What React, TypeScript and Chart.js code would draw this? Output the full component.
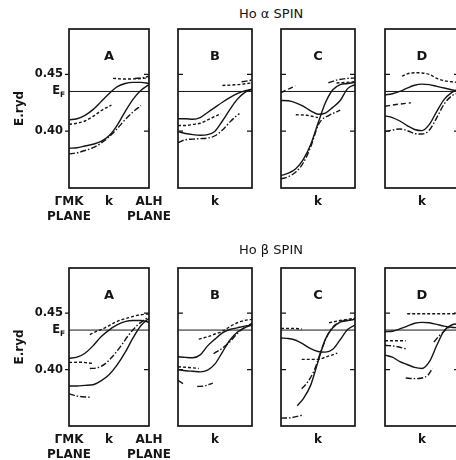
import React, { useEffect, useRef } from "react";
import { Chart, registerables } from "chart.js";
Chart.register(...registerables);

type Pt = [number, number];
type Curve = [string, Pt[]];

const E_F = 0.435;
const Y_MIN = 0.35;
const Y_MAX = 0.49;
const Y_TICKS = [0.4, E_F, 0.45];
const Y_TICK_LABELS = ["0.40", "", "0.45"];
const X_TICKS = [0, 0.5, 1];
const X_LABELS_FIRST: (string | string[])[] = [["ΓMK", "PLANE"], "k", ["ALH", "PLANE"]];
const X_LABELS_OTHER: (string | string[])[] = ["", "k", ""];
const PANEL_LETTERS = ["A", "B", "C", "D"];
const ROW_TITLES = ["Ho α SPIN", "Ho β SPIN"];
const Y_TITLE = "E.ryd";

// ---- α spin panels ----
const alphaA: Curve[] = [
  ["solid", [[0, 0.41], [0.1, 0.411], [0.2, 0.414], [0.3, 0.419], [0.4, 0.426], [0.5, 0.433], [0.6, 0.439], [0.7, 0.442], [0.8, 0.443], [0.9, 0.443], [1, 0.442]]],
  ["dot", [[0, 0.406], [0.1, 0.407], [0.2, 0.409], [0.3, 0.413], [0.4, 0.418], [0.53, 0.423]]],
  ["dot", [[0.55, 0.4465], [0.7, 0.446], [0.85, 0.4462], [1, 0.447]]],
  ["dashdot", [[0.82, 0.4465], [0.92, 0.447], [1, 0.4485]]],
  ["solid", [[0, 0.385], [0.1, 0.3855], [0.2, 0.387], [0.3, 0.3885], [0.4, 0.391], [0.5, 0.396], [0.6, 0.405], [0.7, 0.417], [0.8, 0.428], [0.9, 0.436], [1, 0.441]]],
  ["dashdot", [[0, 0.38], [0.1, 0.381], [0.2, 0.383], [0.3, 0.3855], [0.4, 0.3895], [0.5, 0.395], [0.6, 0.402], [0.7, 0.41], [0.8, 0.417], [0.9, 0.4225]]],
];
const alphaB: Curve[] = [
  ["solid", [[0, 0.411], [0.1, 0.411], [0.2, 0.4105], [0.3, 0.412], [0.4, 0.4165], [0.5, 0.421], [0.6, 0.4255], [0.7, 0.4295], [0.8, 0.433], [0.9, 0.4355], [1, 0.437]]],
  ["dot", [[0, 0.405], [0.1, 0.405], [0.2, 0.406], [0.3, 0.407], [0.4, 0.41], [0.5, 0.413], [0.58, 0.4155]]],
  ["solid", [[0, 0.3997], [0.1, 0.398], [0.2, 0.397], [0.3, 0.3965], [0.4, 0.397], [0.5, 0.4], [0.6, 0.409], [0.7, 0.419], [0.8, 0.428], [0.9, 0.434], [1, 0.437]]],
  ["dashdot", [[0, 0.39], [0.1, 0.3925], [0.2, 0.393], [0.3, 0.3935], [0.4, 0.394], [0.5, 0.396], [0.6, 0.401], [0.7, 0.408], [0.8, 0.414], [0.83, 0.4155]]],
  ["dot", [[0.6, 0.4403], [0.8, 0.441], [1, 0.4425]]],
  ["dashdot", [[0.86, 0.4435], [1, 0.445]]],
];
const alphaC: Curve[] = [
  ["solid", [[0, 0.427], [0.1, 0.4268], [0.2, 0.425], [0.3, 0.422], [0.4, 0.418], [0.5, 0.415], [0.6, 0.416], [0.7, 0.421], [0.8, 0.427], [0.9, 0.4375], [1, 0.441]]],
  ["solid", [[0, 0.361], [0.1, 0.363], [0.2, 0.367], [0.3, 0.375], [0.4, 0.388], [0.5, 0.407], [0.6, 0.425], [0.7, 0.4365], [0.8, 0.441], [0.9, 0.442], [1, 0.443]]],
  ["dashdot", [[0, 0.358], [0.1, 0.36], [0.2, 0.364], [0.3, 0.372], [0.4, 0.386], [0.5, 0.405], [0.55, 0.41], [0.65, 0.414], [0.8, 0.4185]]],
  ["dot", [[0.2, 0.4145], [0.35, 0.414], [0.5, 0.412]]],
  ["dashdot", [[0.64, 0.4425], [0.75, 0.445], [0.9, 0.4465], [1, 0.4468]]],
  ["dash", [[0, 0.434], [0.1, 0.437], [0.2, 0.44]]],
  ["dot", [[0.75, 0.4425], [1, 0.4435]]],
];
const alphaD: Curve[] = [
  ["dot", [[0.23, 0.4485], [0.3, 0.4505], [0.4, 0.4515], [0.5, 0.4513], [0.6, 0.45], [0.7, 0.4465], [0.8, 0.4445], [0.9, 0.4435], [1, 0.443]]],
  ["solid", [[0, 0.432], [0.1, 0.433], [0.2, 0.435], [0.3, 0.438], [0.4, 0.4405], [0.5, 0.4415], [0.6, 0.441], [0.7, 0.4395], [0.8, 0.438], [0.9, 0.4365], [1, 0.435]]],
  ["dash", [[0, 0.422], [0.15, 0.4235], [0.35, 0.425]]],
  ["solid", [[0, 0.4135], [0.1, 0.412], [0.2, 0.409], [0.3, 0.405], [0.4, 0.4015], [0.5, 0.4005], [0.6, 0.406], [0.7, 0.4175], [0.8, 0.428], [0.9, 0.434], [1, 0.4375]]],
  ["dashdot", [[0, 0.3995], [0.1, 0.401], [0.2, 0.402], [0.3, 0.4005], [0.4, 0.398], [0.5, 0.3975], [0.6, 0.401], [0.7, 0.412], [0.8, 0.424], [0.9, 0.431], [1, 0.434]]],
];

// ---- β spin panels ----
const betaA: Curve[] = [
  ["dot", [[0.26, 0.431], [0.35, 0.434], [0.45, 0.437], [0.55, 0.441], [0.65, 0.444], [0.75, 0.446], [0.85, 0.448], [1, 0.4495]]],
  ["solid", [[0, 0.41], [0.1, 0.411], [0.2, 0.4145], [0.3, 0.421], [0.4, 0.429], [0.5, 0.435], [0.6, 0.4395], [0.7, 0.4425], [0.8, 0.4435], [0.9, 0.4435], [1, 0.442]]],
  ["dot", [[0, 0.4063], [0.15, 0.4065], [0.29, 0.4055]]],
  ["dashdot", [[0.26, 0.401], [0.35, 0.4015], [0.45, 0.405], [0.55, 0.412], [0.65, 0.421], [0.75, 0.431], [0.85, 0.439], [0.95, 0.4445], [1, 0.446]]],
  ["solid", [[0, 0.3855], [0.1, 0.3855], [0.2, 0.386], [0.3, 0.3865], [0.4, 0.39], [0.5, 0.3955], [0.6, 0.404], [0.7, 0.415], [0.8, 0.428], [0.9, 0.439], [1, 0.4455]]],
  ["dashdot", [[0, 0.3785], [0.1, 0.3765], [0.26, 0.3755]]],
];
const betaB: Curve[] = [
  ["dot", [[0.28, 0.427], [0.4, 0.429], [0.5, 0.4315], [0.6, 0.434], [0.7, 0.438], [0.8, 0.4415], [0.9, 0.4435], [1, 0.4445]]],
  ["solid", [[0, 0.4113], [0.1, 0.4108], [0.2, 0.4105], [0.3, 0.413], [0.4, 0.421], [0.5, 0.427], [0.6, 0.4325], [0.7, 0.4355], [0.8, 0.437], [0.9, 0.4385], [1, 0.4395]]],
  ["dashdot", [[0.48, 0.414], [0.6, 0.419], [0.7, 0.4245], [0.8, 0.432], [0.9, 0.4375], [1, 0.441]]],
  ["dot", [[0, 0.4025], [0.15, 0.4018], [0.28, 0.401]]],
  ["solid", [[0, 0.4], [0.1, 0.399], [0.2, 0.3985], [0.3, 0.398], [0.4, 0.3995], [0.5, 0.405], [0.6, 0.4155], [0.7, 0.426], [0.8, 0.433], [0.9, 0.437], [1, 0.4395]]],
  ["dashdot", [[0, 0.3905], [0.07, 0.3875]]],
  ["dashdot", [[0.26, 0.385], [0.36, 0.3855], [0.47, 0.388]]],
];
const betaC: Curve[] = [
  ["dot", [[0, 0.4365], [0.14, 0.4365], [0.28, 0.436]]],
  ["solid", [[0, 0.428], [0.1, 0.4275], [0.2, 0.426], [0.3, 0.4225], [0.4, 0.4185], [0.5, 0.416], [0.6, 0.4155], [0.7, 0.418], [0.8, 0.4265], [0.9, 0.4355], [1, 0.4395]]],
  ["solid", [[0.22, 0.368], [0.3, 0.374], [0.4, 0.386], [0.5, 0.407], [0.6, 0.427], [0.7, 0.437], [0.8, 0.442], [0.9, 0.4435], [1, 0.4445]]],
  ["dashdot", [[0.28, 0.383], [0.35, 0.388], [0.45, 0.3995], [0.55, 0.418], [0.65, 0.433], [0.75, 0.4405], [0.85, 0.443], [1, 0.445]]],
  ["dot", [[0.65, 0.4415], [0.8, 0.4435], [1, 0.4455]]],
  ["dot", [[0.28, 0.409], [0.5, 0.409], [0.6, 0.411], [0.76, 0.4145]]],
  ["dashdot", [[0, 0.357], [0.15, 0.3575], [0.28, 0.3595]]],
];
const betaD: Curve[] = [
  ["dot", [[0.3, 0.4495], [0.6, 0.4495], [1, 0.4495]]],
  ["solid", [[0, 0.4335], [0.1, 0.434], [0.2, 0.436], [0.3, 0.4385], [0.4, 0.441], [0.5, 0.4418], [0.6, 0.4415], [0.7, 0.44], [0.8, 0.4385], [0.9, 0.4375], [1, 0.437]]],
  ["dot", [[0, 0.4255], [0.14, 0.4255], [0.28, 0.4255]]],
  ["dashdot", [[0, 0.4215], [0.15, 0.4205], [0.3, 0.418]]],
  ["solid", [[0, 0.4128], [0.1, 0.411], [0.2, 0.407], [0.3, 0.4045], [0.4, 0.402], [0.5, 0.401], [0.6, 0.407], [0.7, 0.4215], [0.8, 0.4345], [0.9, 0.4395], [1, 0.4405]]],
  ["dashdot", [[0.66, 0.4245], [0.75, 0.431], [0.87, 0.438]]],
  ["dashdot", [[0.28, 0.3925], [0.4, 0.392], [0.5, 0.3925], [0.58, 0.395], [0.64, 0.401]]],
];

const ROWS: Curve[][][] = [
  [alphaA, alphaB, alphaC, alphaD],
  [betaA, betaB, betaC, betaD],
];

// ---- layout / style ----
const INK = "#151515";
const FONT = "'DejaVu Sans', sans-serif";
const DASH: Record<string, number[]> = {
  solid: [],
  dot: [3, 2],
  dashdot: [6, 2, 1.5, 2],
  dash: [5, 3],
};
const BOX_W = 80;
const BOX_LEFTS = [69, 172, 275, 379];
const ROW_TOPS = [29, 268];
const ROW_HEIGHTS = [159, 158];
const TITLE_TOPS = [6, 242];

type PanelProps = {
  curves: Curve[];
  letter: string;
  withAxis: boolean;
  boxLeft: number;
  boxTop: number;
  boxH: number;
};

function zeroPad(s: any) {
  s.paddingTop = 0;
  s.paddingBottom = 0;
  s.paddingLeft = 0;
  s.paddingRight = 0;
}

function Panel({ curves, letter, withAxis, boxLeft, boxTop, boxH }: PanelProps) {
  const ref = useRef<HTMLCanvasElement>(null);
  const padL = withAxis ? 60 : 6;
  const padR = withAxis ? 28 : 6;
  const padT = 4;
  const axisH = 40;
  const w = padL + BOX_W + padR;
  const h = padT + boxH + axisH;

  useEffect(() => {
    if (!ref.current) return;
    const datasets: any[] = [
      {
        data: [{ x: 0, y: E_F }, { x: 1, y: E_F }],
        borderColor: INK,
        borderWidth: 1,
        pointRadius: 0,
        tension: 0,
      },
      ...curves.map(([style, pts]) => ({
        data: pts.map(([x, y]) => ({ x, y })),
        borderColor: INK,
        borderWidth: 1.4,
        borderDash: DASH[style],
        pointRadius: 0,
        cubicInterpolationMode: "monotone",
      })),
    ];

    const frame = {
      id: "frame",
      afterDatasetsDraw(chart: any) {
        const { ctx, chartArea: a, scales } = chart;
        ctx.save();
        ctx.strokeStyle = INK;
        ctx.lineWidth = 1.7;
        ctx.setLineDash([]);
        ctx.strokeRect(a.left, a.top, a.right - a.left, a.bottom - a.top);
        ctx.lineWidth = 1.3;
        for (const v of [0.4, 0.45]) {
          const y = scales.y.getPixelForValue(v);
          ctx.beginPath();
          if (withAxis) {
            ctx.moveTo(a.left - 4, y);
            ctx.lineTo(a.left, y);
          } else {
            ctx.moveTo(a.left, y);
            ctx.lineTo(a.left + 5, y);
          }
          ctx.moveTo(a.right - 5, y);
          ctx.lineTo(a.right, y);
          ctx.stroke();
        }
        ctx.fillStyle = INK;
        ctx.textAlign = "center";
        ctx.textBaseline = "middle";
        ctx.font = `bold 13px ${FONT}`;
        ctx.fillText(letter, (a.left + a.right) / 2, a.top + 28);
        if (withAxis) {
          const yF = scales.y.getPixelForValue(E_F);
          ctx.textAlign = "right";
          ctx.font = `bold 11.5px ${FONT}`;
          ctx.fillText("E", a.left - 9, yF);
          ctx.textAlign = "left";
          ctx.font = `bold 7.5px ${FONT}`;
          ctx.fillText("F", a.left - 9, yF + 4);
        }
        ctx.restore();
      },
    };

    const chart = new Chart(ref.current, {
      type: "line",
      data: { datasets },
      plugins: [frame],
      options: {
        responsive: false,
        animation: false,
        devicePixelRatio: 1,
        layout: {
          autoPadding: false,
          padding: { left: withAxis ? 0 : padL, right: padR, top: padT, bottom: 0 },
        },
        plugins: { legend: { display: false }, tooltip: { enabled: false } },
        scales: {
          x: {
            type: "linear",
            min: 0,
            max: 1,
            grid: { display: false, drawTicks: false },
            border: { display: false },
            afterBuildTicks: (s: any) => {
              s.ticks = X_TICKS.map((v) => ({ value: v }));
            },
            afterFit: (s: any) => {
              s.height = axisH;
              zeroPad(s);
            },
            ticks: {
              autoSkip: false,
              maxRotation: 0,
              padding: 6,
              color: INK,
              font: { family: FONT, size: 12, weight: "bold", lineHeight: 1.25 },
              callback: (_v: any, i: number) => (withAxis ? X_LABELS_FIRST[i] : X_LABELS_OTHER[i]),
            },
          },
          y: {
            type: "linear",
            min: Y_MIN,
            max: Y_MAX,
            display: withAxis,
            grid: { display: false, drawTicks: false },
            border: { display: false },
            afterBuildTicks: (s: any) => {
              s.ticks = Y_TICKS.map((v) => ({ value: v }));
            },
            afterFit: (s: any) => {
              s.width = padL;
              zeroPad(s);
            },
            title: {
              display: true,
              text: Y_TITLE,
              color: INK,
              padding: { top: 4, bottom: 4 },
              font: { family: FONT, size: 12, weight: "bold" },
            },
            ticks: {
              autoSkip: false,
              padding: 6,
              color: INK,
              font: { family: FONT, size: 11.5, weight: "bold" },
              callback: (_v: any, i: number) => Y_TICK_LABELS[i],
            },
          },
        },
      } as any,
    });
    return () => chart.destroy();
  }, []);

  return (
    <canvas
      ref={ref}
      width={w}
      height={h}
      style={{ position: "absolute", left: boxLeft - padL, top: boxTop - padT, width: w, height: h }}
    />
  );
}

export default function App() {
  return (
    <div
      style={{
        position: "fixed",
        left: 0,
        top: 0,
        width: 456,
        height: 460,
        overflow: "hidden",
        background: "#fff",
        fontFamily: FONT,
        color: INK,
      }}
    >
      {ROWS.map((row, r) => (
        <React.Fragment key={r}>
          <div
            style={{
              position: "absolute",
              left: 239,
              top: TITLE_TOPS[r],
              fontSize: 13,
              lineHeight: "16px",
              whiteSpace: "nowrap",
            }}
          >
            {ROW_TITLES[r]}
          </div>
          {row.map((curves, c) => (
            <Panel
              key={c}
              curves={curves}
              letter={PANEL_LETTERS[c]}
              withAxis={c === 0}
              boxLeft={BOX_LEFTS[c]}
              boxTop={ROW_TOPS[r]}
              boxH={ROW_HEIGHTS[r]}
            />
          ))}
        </React.Fragment>
      ))}
    </div>
  );
}
